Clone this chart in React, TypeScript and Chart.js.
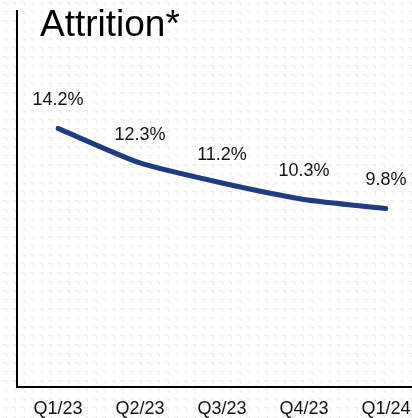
import React, { useEffect, useRef } from "react";
import { Chart, registerables } from "chart.js";

Chart.register(...registerables);

const categories = ["Q1/23", "Q2/23", "Q3/23", "Q4/23", "Q1/24"];
const attrition = [14.2, 12.3, 11.2, 10.3, 9.8];
const titleText = "Attrition*";

const FONT = "'Liberation Sans', Arial, sans-serif";

function makePattern(ctx: CanvasRenderingContext2D) {
  const c = document.createElement("canvas");
  c.width = 9;
  c.height = 9;
  const p = c.getContext("2d")!;
  p.fillStyle = "#ffffff";
  p.fillRect(0, 0, 9, 9);
  p.fillStyle = "#eeeeee";
  p.fillRect(3, 2, 4, 1);
  p.fillRect(6, 2, 1, 4);
  return ctx.createPattern(c, "repeat");
}

const decorPlugin = {
  id: "decor",
  beforeDraw(chart: any) {
    const ctx = chart.ctx as CanvasRenderingContext2D;
    ctx.save();
    const pat = makePattern(ctx);
    if (pat) {
      ctx.fillStyle = pat;
      ctx.fillRect(0, 0, chart.width, chart.height);
    }
    const yScale = chart.scales.y;
    const y0 = yScale.getPixelForValue(0);
    ctx.strokeStyle = "#000000";
    ctx.lineWidth = 2;
    ctx.beginPath();
    ctx.moveTo(17, chart.chartArea.top);
    ctx.lineTo(17, y0);
    ctx.lineTo(chart.width, y0);
    ctx.stroke();
    ctx.fillStyle = "#000000";
    ctx.font = `37px ${FONT}`;
    ctx.textBaseline = "middle";
    ctx.textAlign = "left";
    ctx.fillText(titleText, 40, 26);
    ctx.restore();
  },
  afterDatasetsDraw(chart: any) {
    const ctx = chart.ctx as CanvasRenderingContext2D;
    const meta = chart.getDatasetMeta(0);
    ctx.save();
    ctx.fillStyle = "#111111";
    ctx.font = `18px ${FONT}`;
    ctx.textAlign = "center";
    ctx.textBaseline = "middle";
    meta.data.forEach((pt: any, i: number) => {
      ctx.fillText(attrition[i].toFixed(1) + "%", pt.x, pt.y - 28);
    });
    ctx.restore();
  },
};

export default function App() {
  const ref = useRef<HTMLCanvasElement | null>(null);
  useEffect(() => {
    if (!ref.current) return;
    const chart = new Chart(ref.current, {
      type: "line",
      data: {
        labels: categories,
        datasets: [
          {
            data: attrition,
            borderColor: "#1f3c80",
            borderWidth: 5,
            borderCapStyle: "round",
            borderJoinStyle: "round",
            tension: 0.2,
            pointRadius: 0,
            fill: false,
          },
        ],
      },
      options: {
        responsive: false,
        animation: false,
        layout: { padding: { left: 58, right: 26, top: 10, bottom: 0 } },
        plugins: {
          legend: { display: false },
          tooltip: { enabled: false },
          title: { display: false },
        },
        scales: {
          x: {
            offset: false,
            grid: { display: false, drawTicks: false },
            border: { display: false },
            ticks: {
              color: "#111111",
              font: { family: FONT, size: 18 },
              padding: 11,
              maxRotation: 0,
              autoSkip: false,
            },
            afterFit: (scale: any) => {
              scale.height = 31;
              scale.paddingLeft = 0;
              scale.paddingRight = 0;
            },
          },
          y: {
            display: false,
            min: 0,
            max: 20.7,
          },
        },
      },
      plugins: [decorPlugin],
    });
    return () => chart.destroy();
  }, []);
  return (
    <div style={{ position: "fixed", left: 0, top: 0, width: 412, height: 418, background: "#fff" }}>
      <canvas ref={ref} width={412} height={418} style={{ display: "block" }} />
    </div>
  );
}
